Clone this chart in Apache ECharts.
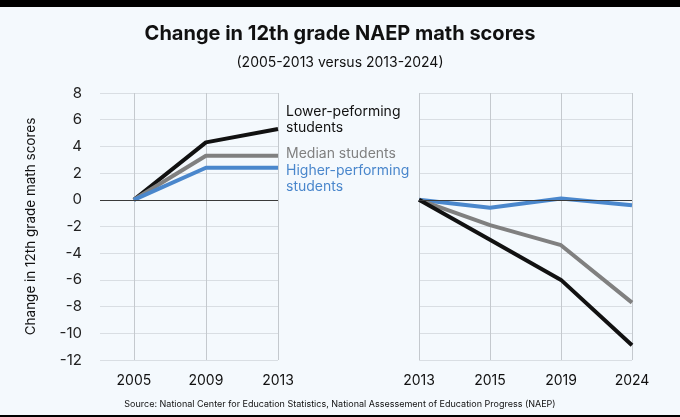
<!DOCTYPE html>
<html>
<head>
<meta charset="utf-8">
<script src="https://cdn.jsdelivr.net/npm/echarts@6/dist/echarts.min.js"></script>
<style>
  html, body { margin: 0; padding: 0; background: #000; }
  #chart { width: 680px; height: 417px; }
</style>
</head>
<body>
<div id="chart"></div>
<script>
// data
const leftYears = ['2005', '2009', '2013'];
const rightYears = ['2013', '2015', '2019', '2024'];

const lowerLeft = [0, 4.3, 5.3];
const medianLeft = [0, 3.3, 3.3];
const higherLeft = [0, 2.4, 2.4];

const lowerRight = [0, -3.0, -6.0, -10.9];
const medianRight = [0, -1.9, -3.4, -7.7];
const higherRight = [0, -0.6, 0.1, -0.4];

const BLACK = '#111111';
const GRAY = '#808080';
const BLUE = '#4a87cc';
const FONT = 'Inter, "Noto Sans", sans-serif';

const gridLine = '#d9dee3';
const vLine = '#c4c9ce';

const chart = echarts.init(document.getElementById('chart'));

const yAxisBase = {
  type: 'value',
  min: -12,
  max: 8,
  interval: 2,
  axisLine: { show: false },
  axisTick: { show: false },
  splitLine: { lineStyle: { color: gridLine, width: 1 } }
};

// thin dark line at zero
const zeroLine = {
  symbol: 'none',
  silent: true,
  label: { show: false },
  lineStyle: { color: '#3a3a3a', width: 1, type: 'solid' },
  data: [{ yAxis: 0 }]
};

function lineSeries(name, color, xi, data, extra) {
  return Object.assign({
    name: name,
    type: 'line',
    xAxisIndex: xi,
    yAxisIndex: xi,
    data: data,
    symbol: 'none',
    lineStyle: { color: color, width: 4 },
    itemStyle: { color: color },
    animation: false
  }, extra || {});
}

function endLabel(text, color, dy) {
  return {
    show: true,
    formatter: text,
    color: color,
    fontFamily: FONT,
    fontSize: 14,
    lineHeight: 16,
    distance: 8,
    offset: [0, dy]
  };
}

const option = {
  backgroundColor: '#f4f9fd',
  animation: false,
  title: [
    {
      text: 'Change in 12th grade NAEP math scores',
      left: 'center',
      top: 19,
      textStyle: { fontFamily: FONT, fontSize: 20, fontWeight: 'bold', color: '#111' }
    },
    {
      text: '(2005-2013 versus 2013-2024)',
      left: 'center',
      top: 51,
      textStyle: { fontFamily: FONT, fontSize: 14, fontWeight: 'normal', color: '#111' }
    },
    {
      text: 'Source: National Center for Education Statistics, National Assessement of Education Progress (NAEP)',
      left: 'center',
      top: 395,
      textStyle: { fontFamily: FONT, fontSize: 9, fontWeight: 'normal', color: '#111' }
    }
  ],
  graphic: [
    { type: 'rect', shape: { x: 0, y: 0, width: 680, height: 7 }, style: { fill: '#000' }, silent: true },
    { type: 'rect', shape: { x: 0, y: 415, width: 680, height: 2 }, style: { fill: '#000' }, silent: true }
  ],
  grid: [
    { left: 100, top: 93, width: 178, height: 267 },
    { left: 419, top: 93, width: 213, height: 267 }
  ],
  xAxis: [
    {
      type: 'value',
      gridIndex: 0,
      min: -0.47,
      max: 2,
      axisLine: { show: false },
      axisTick: { show: true, length: 6, customValues: [0, 1, 2], lineStyle: { color: vLine } },
      axisLabel: {
        customValues: [0, 1, 2],
        formatter: v => leftYears[Math.round(v)],
        fontFamily: FONT, fontSize: 14, color: '#111', margin: 14
      },
      splitLine: { show: true, lineStyle: { color: vLine } }
    },
    {
      type: 'category',
      gridIndex: 1,
      data: rightYears,
      boundaryGap: false,
      axisLine: { show: false },
      axisTick: { show: true, length: 6, alignWithLabel: true, lineStyle: { color: vLine } },
      axisLabel: { fontFamily: FONT, fontSize: 14, color: '#111', margin: 14 },
      splitLine: { show: true, lineStyle: { color: vLine } }
    }
  ],
  yAxis: [
    Object.assign({}, yAxisBase, {
      gridIndex: 0,
      name: 'Change in 12th grade math scores',
      nameLocation: 'middle',
      nameGap: 62,
      nameTextStyle: { fontFamily: FONT, fontSize: 13.5, color: '#111' },
      axisLabel: { fontFamily: FONT, fontSize: 15, color: '#222', margin: 18 }
    }),
    Object.assign({}, yAxisBase, {
      gridIndex: 1,
      axisLabel: { show: false }
    })
  ],
  series: [
    lineSeries('Lower-peforming students', BLACK, 0, lowerLeft.map((v, i) => [i, v]), {
      endLabel: endLabel('Lower-peforming\nstudents', BLACK, -9),
      markLine: zeroLine
    }),
    lineSeries('Median students', GRAY, 0, medianLeft.map((v, i) => [i, v]), {
      endLabel: endLabel('Median students', GRAY, -2)
    }),
    lineSeries('Higher-performing students', BLUE, 0, higherLeft.map((v, i) => [i, v]), {
      endLabel: endLabel('Higher-performing\nstudents', BLUE, 11)
    }),
    lineSeries('Higher-performing students', BLUE, 1, higherRight, { markLine: zeroLine }),
    lineSeries('Median students', GRAY, 1, medianRight),
    lineSeries('Lower-peforming students', BLACK, 1, lowerRight)
  ]
};

chart.setOption(option);
</script>
</body>
</html>
